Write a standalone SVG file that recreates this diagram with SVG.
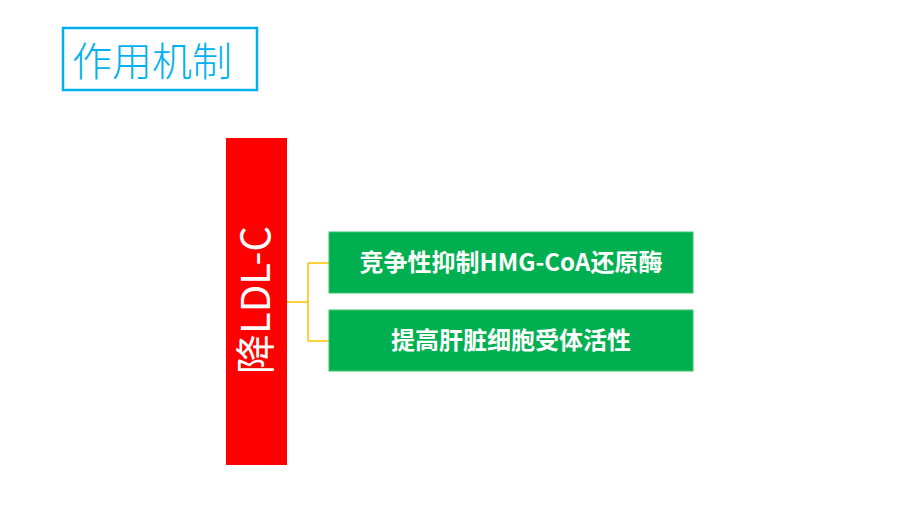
<svg xmlns="http://www.w3.org/2000/svg" width="920" height="518" viewBox="0 0 920 518">
<style>
.cjk{font-family:"Noto Sans CJK SC","Noto Sans",sans-serif}
.box{fill:#00B050;stroke:#3CC46C;stroke-width:1}
.lbl{fill:#fff;font-size:24px;font-weight:bold;text-anchor:middle}
.conn{fill:none;stroke:#FFC000;stroke-width:1.5}
</style>
<rect width="920" height="518" fill="#fff"/>
<g id="title">
<rect x="63" y="28" width="194" height="62" fill="none" stroke="#00B0F0" stroke-width="2.5"/>
<text class="cjk" x="72" y="76" font-size="40" fill="#00B0F0" font-weight="300">作用机制</text>
</g>
<g id="connectors">
<path class="conn" d="M287 302 H308 M308 263 V341 M308 263 H330 M308 341 H330"/>
</g>
<g id="main">
<rect x="226" y="138" width="61" height="327" fill="#FF0000"/>
<text class="cjk" transform="translate(270,300) rotate(-90)" x="0" y="0" font-size="40" fill="#fff" text-anchor="middle">降LDL-C</text>
</g>
<g id="node1">
<rect class="box" x="329" y="232" width="364" height="61"/>
<text class="cjk lbl" x="511" y="271">竞争性抑制HMG-CoA还原酶</text>
</g>
<g id="node2">
<rect class="box" x="329" y="310" width="364" height="61"/>
<text class="cjk lbl" x="511" y="349">提高肝脏细胞受体活性</text>
</g>
</svg>
